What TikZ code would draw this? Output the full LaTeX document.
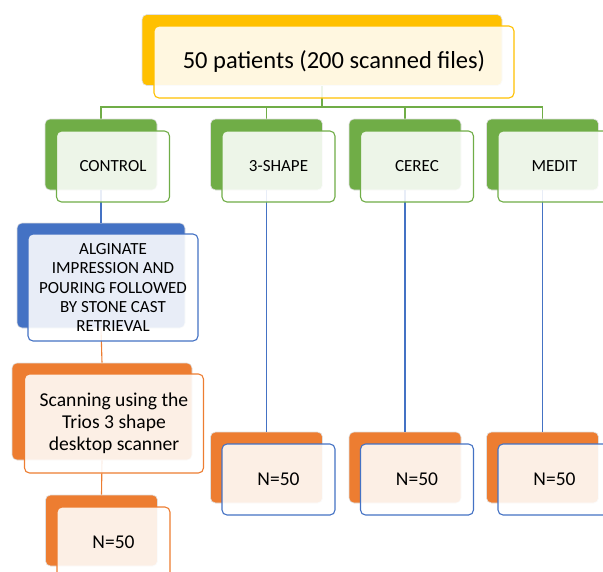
\documentclass[tikz,border=0pt]{standalone}
\usepackage{fontspec}
\setmainfont{Carlito}
\usepackage{tikz}
\usepackage{xcolor}

\definecolor{accyellow}{HTML}{FFC000}
\definecolor{accgreen}{HTML}{70AD47}
\definecolor{accblue}{HTML}{4472C4}
\definecolor{accorange}{HTML}{ED7D31}

\tikzset{
  backbox/.style={rounded corners=5pt, fill=#1, draw=black!12, line width=.6pt,
    minimum width=112pt, minimum height=71pt, inner sep=0pt},
  frontbox/.style={rounded corners=5pt, draw=#1, line width=1.1pt, fill=white,
    fill opacity=.88, text opacity=1, minimum width=113pt, minimum height=71pt,
    inner sep=0pt, align=center, xshift=12pt, yshift=-12pt},
  link/.style={line width=1.1pt, draw=#1},
}

\begin{document}
\begin{tikzpicture}[x=1pt,y=1pt]
\useasboundingbox (0,0) rectangle (603,-571);

% connectors
\draw[link=accgreen] (322,-85) -- (322,-107) -| (101,-119);
\draw[link=accgreen] (322,-107) -| (266.5,-119);
\draw[link=accgreen] (322,-107) -| (405,-119);
\draw[link=accgreen] (322,-107) -| (542.5,-119);

% back boxes
\node (pat) at (322,-50) [backbox=accyellow, minimum width=360pt] {};

\node (ctrl) at (101,-154.5) [backbox=accgreen] {};
\node (shp) at (266.5,-154.5) [backbox=accgreen] {};
\node (crc) at (405,-154.5) [backbox=accgreen] {};
\node (mdt) at (542.5,-154.5) [backbox=accgreen] {};

\node (alg) at (101,-275.5) [backbox=accblue, minimum width=168pt, minimum height=105pt] {};
\node (scan) at (102,-411.5) [backbox=accorange, minimum width=180pt, minimum height=97pt] {};
\node (nctrl) at (101.5,-530.5) [backbox=accorange] {};

\node (nshp) at (266.5,-467.5) [backbox=accorange] {};
\node (ncrc) at (405,-467.5) [backbox=accorange] {};
\node (nmdt) at (542.5,-467.5) [backbox=accorange] {};

% links down the columns
\draw[link=accblue] (ctrl.south) -- (alg.north);
\draw[link=accorange] (alg.south) -- (scan.north);
\draw[link=accorange] (scan.south) -- (nctrl.north);
\draw[link=accblue] (shp.south) -- (nshp.north);
\draw[link=accblue] (crc.south) -- (ncrc.north);
\draw[link=accblue] (mdt.south) -- (nmdt.north);

% front boxes
\node (patf) at (pat) [frontbox=accyellow, minimum width=360pt, minimum height=72pt,
  font=\fontsize{24.5}{29}\selectfont] {50 patients (200 scanned files)};

\node (ctrlf) at (ctrl) [frontbox=accgreen, font=\fontsize{17}{20}\selectfont] {CONTROL};
\node (shpf) at (shp) [frontbox=accgreen, font=\fontsize{17}{20}\selectfont] {3-SHAPE};
\node (crcf) at (crc) [frontbox=accgreen, font=\fontsize{17}{20}\selectfont] {CEREC};
\node (mdtf) at (mdt) [frontbox=accgreen, font=\fontsize{17}{20}\selectfont] {MEDIT};

\node (algf) at (alg) [frontbox=accblue, minimum width=170pt, minimum height=107pt,
  font=\fontsize{17}{19.2}\selectfont]
  {ALGINATE\\IMPRESSION AND\\POURING FOLLOWED\\BY STONE CAST\\RETRIEVAL};
\node (scanf) at (scan) [frontbox=accorange, minimum width=179pt, minimum height=99pt,
  font=\fontsize{19.6}{22}\selectfont]
  {Scanning using the\\Trios 3 shape\\desktop scanner};
\node (nctrlf) at (nctrl) [frontbox=accorange, font=\fontsize{19.5}{23}\selectfont] {N=50};

\node (nshpf) at (nshp) [frontbox=accblue, font=\fontsize{19.5}{23}\selectfont] {N=50};
\node (ncrcf) at (ncrc) [frontbox=accblue, font=\fontsize{19.5}{23}\selectfont] {N=50};
\node (nmdtf) at (nmdt) [frontbox=accblue, font=\fontsize{19.5}{23}\selectfont] {N=50};

\end{tikzpicture}
\end{document}
